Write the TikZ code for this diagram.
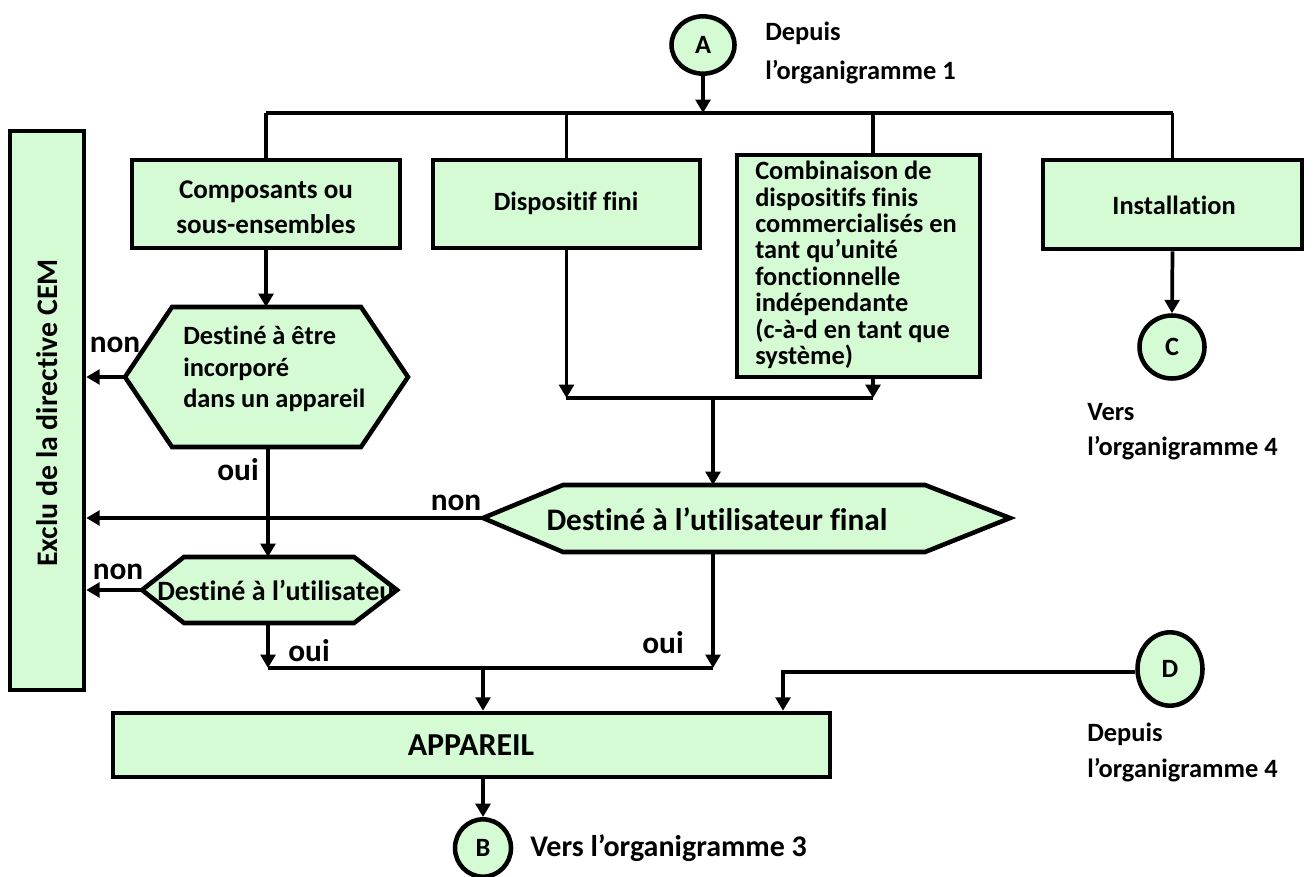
\documentclass[tikz,border=0pt]{standalone}
\usepackage{fontspec}
\setmainfont{Carlito}[Ligatures=NoCommon]
\usetikzlibrary{arrows.meta,shapes.geometric,fit}
\definecolor{boxgreen}{RGB}{212,251,212}
\begin{document}
\begin{tikzpicture}[x=0.75pt,y=-0.75pt,
  every node/.style={font=\fontsize{19.8}{23}\selectfont\bfseries},
  box/.style={draw,fill=boxgreen,line width=3.4pt,inner sep=0pt},
  hexfill/.style={fill=boxgreen},
  hexline/.style={draw,line width=3.4pt,line join=miter},
  conn/.style={line width=2.8pt},
  arr/.style={conn,-{Triangle[length=10pt,width=11pt]}},
  circ/.style={ellipse,draw,fill=boxgreen,line width=3.4pt,inner sep=0pt},
  txt/.style={inner sep=0pt},
  big/.style={font=\fontsize{23.5}{27}\selectfont\bfseries}]
\useasboundingbox (0,0) rectangle (1313,877);

% top connector A
\node[circ,minimum width=47.25pt,minimum height=43pt] (A) at (703,45) {A};
\node[txt,anchor=west,align=left,font=\fontsize{19.8}{29}\selectfont\bfseries] (fromA) at (765,53) {Depuis\\l’organigramme 1};
\coordinate (bus) at (703,113);
\coordinate (combx) at (873,0);

% boxes of the first row
\node[box,fit={(10,131)(84,690)}] (excl) {};
\node[txt,rotate=90,font=\fontsize{22.4}{26}\selectfont\bfseries] (exclt) at (47,413) {Exclu de la directive CEM};
\node[box,fit={(132,160)(400,248)}] (comp) {};
\node[txt,align=center,font=\fontsize{20.3}{26}\selectfont\bfseries] (compt) at (266,207) {Composants ou\\sous-ensembles};
\node[box,fit={(433,160)(700,248)}] (disp) {};
\node[txt] (dispt) at (566,203) {Dispositif fini};
\node[box,fit={(737,155)(980,377)}] (comb) {};
\node[txt,anchor=north west,align=left,font=\fontsize{19.8}{19.8}\selectfont\bfseries] (combt) at (755,161) {Combinaison de\\dispositifs finis\\commercialisés en\\tant qu’unité\\fonctionnelle\\indépendante\\(c-à-d en tant que\\système)};
\node[box,fit={(1043,160)(1302,249)}] (inst) {};
\node[txt] (instt) at (1174,205) {Installation};
\node[circ,minimum width=48.75pt,minimum height=47.25pt] (C) at (1172,347) {C};
\node[txt,anchor=west,align=left,font=\fontsize{19.8}{26}\selectfont\bfseries] (toC) at (1087,432) {Vers\\l’organigramme 4};

% bus
\draw[arr] (A) -- (bus);
\draw[conn,line width=3.2pt] (comp.north |- bus) -- (inst.north |- bus);
\draw[conn] (comp.north |- bus) -- (comp.north);
\draw[conn] (disp.north |- bus) -- (disp.north);
\draw[conn] (combx |- bus) -- (combx |- comb.north);
\draw[conn] (inst.north |- bus) -- (inst.north);
\draw[arr] (inst.south) -- (C.north);

% hexagon 1
\coordinate (h1w) at (125,377);
\coordinate (h1n) at (266,307);
\coordinate (h1s) at (268,447);
\path[hexfill] (125,377) -- (172,307) -- (361,307) -- (408,377) -- (361,447) -- (172,447) -- cycle;
\node[txt,anchor=west,align=left,font=\fontsize{19.8}{23.8}\selectfont\bfseries] (h1t) at (183,369) {Destiné à être\\incorporé\\dans un appareil};
\path[hexline] (125,377) -- (172,307) -- (361,307) -- (408,377) -- (361,447) -- (172,447) -- cycle;

% hexagon 2
\coordinate (h2w) at (142,590);
\coordinate (h2n) at (268,557);
\coordinate (h2s) at (268,623);
\path[hexfill] (142,590) -- (184,557) -- (354,557) -- (397,590) -- (354,623) -- (184,623) -- cycle;
\begin{scope}
\clip (142,590) -- (184,557) -- (354,557) -- (397,590) -- (354,623) -- (184,623) -- cycle;
\node[txt,anchor=west,font=\fontsize{21}{24}\selectfont\bfseries] (h2t) at (157,590) {Destiné à l’utilisateur};
\end{scope}
\path[hexline] (142,590) -- (184,557) -- (354,557) -- (397,590) -- (354,623) -- (184,623) -- cycle;

% hexagon 3
\coordinate (h3w) at (483,518);
\coordinate (h3n) at (713,485);
\coordinate (h3s) at (713,552);
\path[hexfill] (483,518) -- (563,485) -- (925,485) -- (1010,518) -- (925,552) -- (563,552) -- cycle;
\node[txt,font=\fontsize{23.5}{27}\selectfont\bfseries] (h3t) at (717,519) {Destiné à l’utilisateur final};
\path[hexline] (483,518) -- (563,485) -- (925,485) -- (1010,518) -- (925,552) -- (563,552) -- cycle;

% connectors
\draw[arr] (comp.south) -- (h1n);
\draw[arr] (h1w) -- (h1w -| excl.east);
\node[txt,big] (non1) at (115,345) {non};
\draw[arr] (h1s) -- (h2n);
\node[txt,big] (oui1) at (238,470) {oui};

\coordinate (j1L) at (566,398);
\coordinate (j1R) at (873,398);
\coordinate (j1M) at (713,398);
\draw[arr] (disp.south) -- (disp.south |- j1L);
\draw[arr] (combx |- comb.south) -- (j1R);
\draw[conn] (j1L) -- (j1R);
\draw[arr] (j1M) -- (h3n);

\draw[arr] (h3w) -- (h3w -| excl.east);
\node[txt,big] (non2) at (456,503) {non};
\draw[arr] (h2w) -- (h2w -| excl.east);
\node[txt,big] (non3) at (118,572) {non};

\coordinate (j2L) at (268,668);
\coordinate (j2R) at (713,668);
\coordinate (j2M) at (483,668);
\draw[arr] (h2s) -- (j2L);
\draw[arr] (h3s) -- (j2R);
\draw[conn] (j2L) -- (j2R);
\node[txt,big] (oui2) at (309,651) {oui};
\node[txt,big] (oui3) at (663,643) {oui};

% APPAREIL
\node[box,fit={(113,713)(830,777)}] (app) {};
\node[txt,font=\fontsize{24}{28}\selectfont\bfseries] (appt) at (471,745) {APPAREIL};
\draw[arr] (j2M) -- (j2M |- app.north);

% D
\node[circ,minimum width=48.75pt,minimum height=55pt] (D) at (1170,669) {D};
\node[txt,anchor=west,align=left,font=\fontsize{19.8}{27}\selectfont\bfseries] (fromD) at (1087,752) {Depuis\\l’organigramme 4};
\coordinate (dk) at (783,672);
\draw[arr,line width=3.4pt] (D.west |- dk) -- (dk) -- (dk |- app.north);

% B
\node[circ,minimum width=42pt,minimum height=43pt] (B) at (483,848) {B};
\node[txt,anchor=west,font=\fontsize{22.5}{26}\selectfont\bfseries] (toB) at (530,848) {Vers l’organigramme 3};
\draw[arr] (B.north |- app.south) -- (B.north);
\end{tikzpicture}
\end{document}
